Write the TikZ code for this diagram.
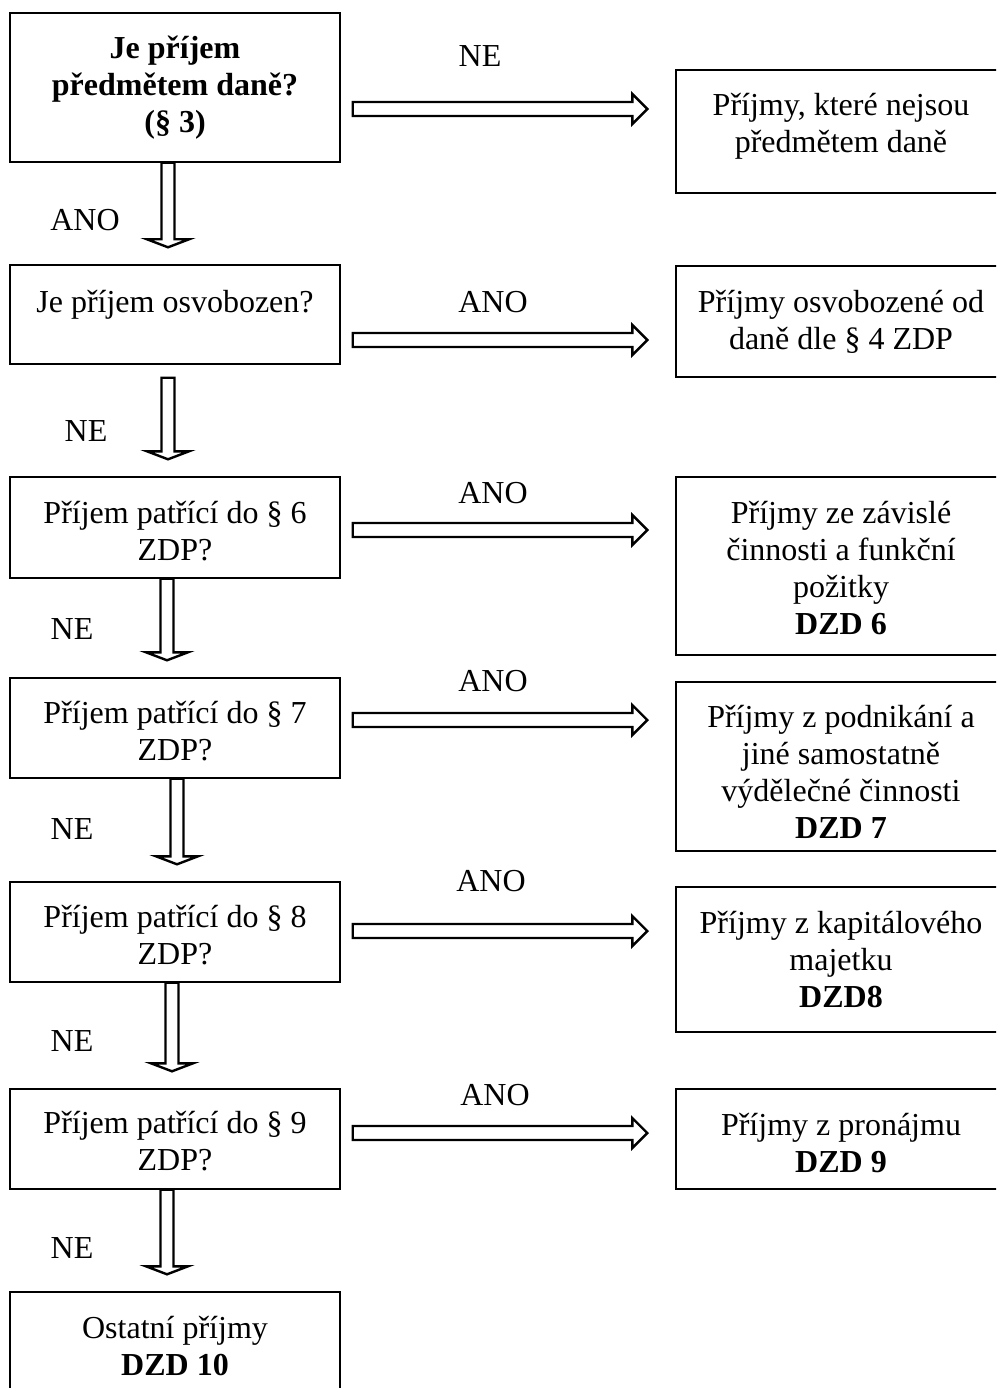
\documentclass[tikz,border=0pt]{standalone}
\usepackage{fontspec}
\setmainfont{Liberation Serif}
\usetikzlibrary{calc,positioning}

\tikzset{
  box/.style={draw, line width=1.4pt, minimum width=330pt, align=center, inner sep=0pt,
              font=\fontsize{32}{37}\selectfont},
  lbl/.style={font=\fontsize{32}{37}\selectfont, inner sep=0pt},
  % hollow block arrow pointing right
  harrow/.style={line width=2.4pt, to path={let \p1=(\tikztostart), \p2=(\tikztotarget) in
      ({\x1+12pt},{\y1+7pt}) -- ({\x2-43pt},{\y1+7pt}) -- ({\x2-43pt},{\y1+15pt})
      -- ({\x2-28pt},\y1) -- ({\x2-43pt},{\y1-15pt}) -- ({\x2-43pt},{\y1-7pt})
      -- ({\x1+12pt},{\y1-7pt}) -- cycle}},
  % hollow block arrow pointing down
  varrow/.style={line width=2.4pt, to path={let \p1=(\tikztostart), \p2=(\tikztotarget) in
      ({\x1-6.5pt},\y1) -- ({\x1-6.5pt},{\y2+25pt}) -- ({\x1-21pt},{\y2+25pt})
      -- (\x1,{\y2+17pt}) -- ({\x1+21pt},{\y2+25pt}) -- ({\x1+6.5pt},{\y2+25pt})
      -- ({\x1+6.5pt},\y1) -- cycle}}
}

\begin{document}
\begin{tikzpicture}[x=1pt,y=-1pt]
  \useasboundingbox (0,0) rectangle (996,1388);
  \clip (0,0) rectangle (996,1388);

  % questions on the left
  \node[box, minimum height=149pt] (q1) at (175,87.5) {\bfseries Je příjem\\ \bfseries předmětem daně?\\ \bfseries (§ 3)};
  \node[box, minimum height=99pt] (q2) at (175,314.5) {Je příjem osvobozen?\\[-10pt] \mbox{}};
  \node[box, minimum height=101pt] (q3) at (175,527.5) {\mbox{}\\[-7pt] Příjem patřící do § 6\\ ZDP?};
  \node[box, minimum height=100pt] (q4) at (175,728) {\mbox{}\\[-9pt] Příjem patřící do § 7\\ ZDP?};
  \node[box, minimum height=100pt] (q5) at (175,932) {\mbox{}\\[-8pt] Příjem patřící do § 8\\ ZDP?};
  \node[box, minimum height=100pt] (q6) at (175,1139) {\mbox{}\\[-10pt] Příjem patřící do § 9\\ ZDP?};
  \node[box, minimum height=120pt] (q7) at (175,1352) {Ostatní příjmy\\ \bfseries DZD 10\\[-25pt] \mbox{}};

  % results on the right
  \node[box, minimum height=123pt] (r1) at (841,131.5) {Příjmy, které nejsou\\ předmětem daně\\[-20pt] \mbox{}};
  \node[box, minimum height=111pt] (r2) at (841,321.5) {Příjmy osvobozené od\\ daně dle § 4 ZDP};
  \node[box, minimum height=178pt] (r3) at (841,566) {\mbox{}\\[-10pt] Příjmy ze závislé\\ činnosti a funkční\\ požitky\\ \bfseries DZD 6};
  \node[box, minimum height=169pt] (r4) at (841,766.5) {\mbox{}\\[-4pt] Příjmy z podnikání a\\ jiné samostatně\\ výdělečné činnosti\\ \bfseries DZD 7};
  \node[box, minimum height=145pt] (r5) at (841,959.5) {Příjmy z kapitálového\\ majetku\\ \bfseries DZD8};
  \node[box, minimum height=100pt] (r6) at (841,1139) {\mbox{}\\[-6pt] Příjmy z pronájmu\\ \bfseries DZD 9};

  % arrows to the right
  \foreach \q/\r/\y in {q1/r1/109, q2/r2/340, q3/r3/530, q4/r4/720, q5/r5/931, q6/r6/1133} {
    \coordinate (h\r) at (0,\y);
    \draw[harrow] (\q.east |- h\r) to (\r.west |- h\r);
  }

  % arrows down
  \foreach \a/\b/\s/\g in {q1/q2/-7/0, q2/q3/-7/-13, q3/q4/-8/0, q4/q5/2/0, q5/q6/-3/0, q6/q7/-8/0} {
    \draw[varrow] ([xshift=\s pt, yshift=\g pt]\a.south) to (\b.north);
  }

  % answers
  \node[lbl] (ne1) at (480,56) {NE};
  \foreach \n/\x/\y in {a2/493/302, a3/493/493, a4/493/681, a5/491/881, a6/495/1095}
    \node[lbl] (\n) at (\x,\y) {ANO};
  \node[lbl] (ano1) at (85,220) {ANO};
  \foreach \n/\x/\y in {n2/86/431, n3/72/629, n4/72/829, n5/72/1041, n6/72/1248}
    \node[lbl] (\n) at (\x,\y) {NE};

\end{tikzpicture}
\end{document}
